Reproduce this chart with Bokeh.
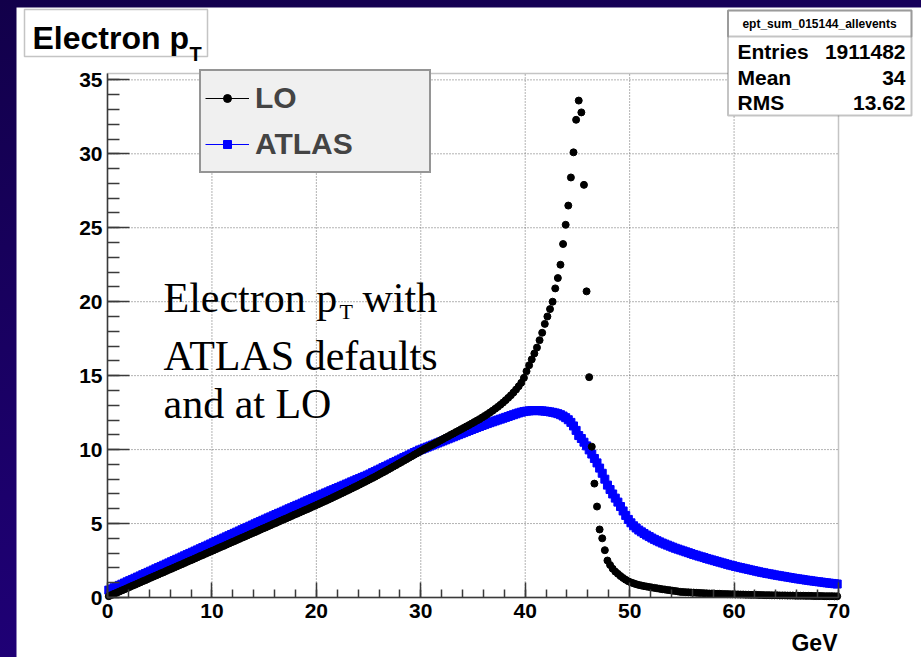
import numpy as np
from bokeh.plotting import figure
from bokeh.models import (Range1d, Label, BoxAnnotation, Legend, LegendItem,
                          SingleIntervalTicker)
from bokeh.layouts import column
from bokeh.embed import file_html
from bokeh.resources import INLINE

# ---------------- data (histogram, 280 bins of 0.25 GeV from 0 to 70) -------------
BIN_WIDTH = 0.25
N_BINS = 280

lo_counts = [
    0.09, 0.17, 0.25, 0.32, 0.40, 0.48, 0.55, 0.63, 0.71, 0.79, 0.86, 0.94, 1.02, 1.10, 1.17, 1.25, 1.33, 1.41, 1.48, 1.56,
    1.64, 1.71, 1.79, 1.87, 1.94, 2.02, 2.10, 2.18, 2.25, 2.33, 2.41, 2.49, 2.56, 2.64, 2.72, 2.80, 2.87, 2.95, 3.03, 3.11,
    3.18, 3.26, 3.34, 3.42, 3.49, 3.57, 3.65, 3.73, 3.80, 3.88, 3.96, 4.04, 4.11, 4.19, 4.27, 4.35, 4.42, 4.50, 4.58, 4.66,
    4.73, 4.81, 4.89, 4.97, 5.04, 5.12, 5.20, 5.28, 5.35, 5.43, 5.51, 5.59, 5.66, 5.74, 5.82, 5.90, 5.97, 6.05, 6.13, 6.21,
    6.29, 6.37, 6.45, 6.53, 6.61, 6.69, 6.78, 6.86, 6.94, 7.03, 7.11, 7.20, 7.28, 7.37, 7.46, 7.54, 7.63, 7.72, 7.81, 7.90,
    7.99, 8.08, 8.17, 8.27, 8.36, 8.46, 8.55, 8.65, 8.75, 8.85, 8.95, 9.05, 9.15, 9.25, 9.35, 9.45, 9.55, 9.65, 9.75, 9.85,
    9.95, 10.05, 10.14, 10.24, 10.33, 10.43, 10.52, 10.62, 10.71, 10.81, 10.90, 11.00, 11.09, 11.19, 11.28, 11.38, 11.47, 11.57, 11.66, 11.76,
    11.86, 11.96, 12.06, 12.17, 12.28, 12.39, 12.51, 12.63, 12.76, 12.89, 13.03, 13.18, 13.34, 13.50, 13.67, 13.86, 14.06, 14.28, 14.52, 14.85,
    15.30, 15.70, 16.10, 16.50, 16.90, 17.40, 17.90, 18.50, 19.00, 19.50, 20.00, 20.90, 21.60, 22.50, 23.90, 25.20, 26.50, 28.40, 30.10, 32.30,
    33.60, 32.80, 27.90, 20.70, 14.90, 10.20, 7.70, 6.15, 4.60, 4.00, 3.20, 2.50, 2.20, 1.95, 1.75, 1.60, 1.45, 1.32, 1.20, 1.10,
    1.02, 0.96, 0.90, 0.85, 0.81, 0.77, 0.74, 0.71, 0.68, 0.65, 0.62, 0.59, 0.56, 0.54, 0.51, 0.49, 0.46, 0.44, 0.41, 0.38,
    0.37, 0.36, 0.35, 0.34, 0.33, 0.32, 0.31, 0.30, 0.29, 0.28, 0.27, 0.27, 0.26, 0.25, 0.25, 0.24, 0.23, 0.23, 0.22, 0.22,
    0.21, 0.21, 0.20, 0.20, 0.19, 0.19, 0.18, 0.18, 0.18, 0.17, 0.17, 0.16, 0.16, 0.16, 0.15, 0.15, 0.15, 0.14, 0.14, 0.14,
    0.13, 0.13, 0.13, 0.12, 0.12, 0.12, 0.12, 0.11, 0.11, 0.11, 0.10, 0.10, 0.10, 0.10, 0.09, 0.09, 0.09, 0.09, 0.08, 0.08,
]

atlas_counts = [
    0.50, 0.58, 0.66, 0.74, 0.82, 0.90, 0.98, 1.06, 1.14, 1.22, 1.30, 1.38, 1.46, 1.54, 1.62, 1.70, 1.78, 1.86, 1.94, 2.02,
    2.10, 2.18, 2.26, 2.34, 2.42, 2.50, 2.58, 2.66, 2.74, 2.82, 2.90, 2.98, 3.06, 3.14, 3.22, 3.30, 3.38, 3.46, 3.54, 3.62,
    3.70, 3.78, 3.86, 3.94, 4.02, 4.10, 4.18, 4.26, 4.34, 4.42, 4.50, 4.58, 4.66, 4.74, 4.82, 4.90, 4.98, 5.06, 5.14, 5.22,
    5.30, 5.38, 5.45, 5.53, 5.61, 5.69, 5.76, 5.84, 5.92, 6.00, 6.07, 6.15, 6.23, 6.30, 6.38, 6.46, 6.54, 6.61, 6.69, 6.77,
    6.84, 6.92, 6.99, 7.07, 7.14, 7.22, 7.29, 7.37, 7.44, 7.52, 7.59, 7.67, 7.74, 7.82, 7.89, 7.97, 8.04, 8.12, 8.19, 8.27,
    8.35, 8.44, 8.52, 8.61, 8.69, 8.78, 8.86, 8.95, 9.03, 9.12, 9.20, 9.29, 9.37, 9.46, 9.54, 9.63, 9.71, 9.80, 9.88, 9.97,
    10.03, 10.10, 10.17, 10.24, 10.31, 10.38, 10.45, 10.52, 10.59, 10.66, 10.73, 10.80, 10.87, 10.94, 11.01, 11.08, 11.15, 11.22, 11.29, 11.36,
    11.43, 11.50, 11.56, 11.63, 11.69, 11.76, 11.82, 11.88, 11.94, 12.00, 12.06, 12.12, 12.18, 12.24, 12.30, 12.36, 12.42, 12.48, 12.53, 12.57,
    12.60, 12.62, 12.63, 12.64, 12.64, 12.63, 12.62, 12.60, 12.58, 12.55, 12.52, 12.48, 12.43, 12.36, 12.27, 12.16, 12.02, 11.84, 11.60, 11.30,
    10.95, 10.75, 10.50, 10.25, 9.98, 9.70, 9.40, 9.10, 8.75, 8.40, 8.00, 7.60, 7.30, 7.00, 6.72, 6.45, 6.15, 5.85, 5.55, 5.28,
    5.05, 4.85, 4.70, 4.56, 4.44, 4.33, 4.22, 4.12, 4.02, 3.93, 3.84, 3.76, 3.68, 3.61, 3.54, 3.47, 3.40, 3.33, 3.27, 3.21,
    3.15, 3.09, 3.03, 2.97, 2.91, 2.86, 2.80, 2.75, 2.70, 2.64, 2.59, 2.54, 2.49, 2.44, 2.39, 2.34, 2.29, 2.24, 2.19, 2.15,
    2.10, 2.06, 2.02, 1.98, 1.94, 1.90, 1.86, 1.82, 1.78, 1.74, 1.70, 1.67, 1.63, 1.60, 1.57, 1.53, 1.50, 1.47, 1.44, 1.41,
    1.38, 1.35, 1.32, 1.29, 1.26, 1.24, 1.21, 1.18, 1.16, 1.13, 1.11, 1.08, 1.06, 1.04, 1.01, 0.99, 0.97, 0.95, 0.93, 0.91,
]

series_labels = ["LO", "ATLAS"]
stats_name = "ept_sum_015144_allevents"
stats_rows = [("Entries", "1911482"), ("Mean", "34"), ("RMS", "13.62")]
x_grid_ticks = [10, 20, 30, 40, 50, 60]
y_grid_ticks = [5, 10, 15, 20, 25, 30, 35]

bin_centres = (np.arange(N_BINS) + 0.5) * BIN_WIDTH

# ---------------- geometry ----------------
X0, X1 = 0.0, 70.0          # axis extent
Y0, Y1 = 0.0, 35.43
FR_L, FR_T, FR_R, FR_B = 107, 73, 838, 597   # axis box in page pixels
OFF_X, OFF_Y = 16, 7                          # white canvas offset in page
FIG_W, FIG_H = 921 - OFF_X, 657 - OFF_Y


def px_x(px):
    return X0 + (px - FR_L) * (X1 - X0) / (FR_R - FR_L)


def px_y(py):
    return Y0 + (FR_B - py) * (Y1 - Y0) / (FR_B - FR_T)


SANS = "Liberation Sans"
SERIF = "Liberation Serif"
AXC = "#3a3a3a"

# the plotting frame covers the whole white canvas; the axes sit at fixed locations
p = figure(width=FIG_W, height=FIG_H, output_backend="svg", toolbar_location=None,
           title=None,
           x_range=Range1d(px_x(OFF_X), px_x(921)), y_range=Range1d(px_y(657), px_y(OFF_Y)),
           min_border=0)
p.margin = (OFF_Y, 0, 0, OFF_X)
p.background_fill_color = "white"
p.border_fill_color = "white"
p.outline_line_color = None
p.grid.visible = False

p.xaxis.ticker = SingleIntervalTicker(interval=10, num_minor_ticks=5)
p.yaxis.ticker = SingleIntervalTicker(interval=5, num_minor_ticks=5)
p.xaxis.fixed_location = 0
p.yaxis.fixed_location = 0
p.xaxis.bounds = (X0, X1)
p.yaxis.bounds = (Y0, Y1)
for ax in (p.xaxis, p.yaxis):
    ax.axis_line_color = AXC
    ax.axis_line_width = 1.5
    ax.major_tick_line_color = AXC
    ax.minor_tick_line_color = AXC
    ax.major_tick_line_width = 1.5
    ax.minor_tick_line_width = 1.5
    ax.major_tick_out = 0
    ax.minor_tick_out = 0
    ax.major_label_text_font = SANS
    ax.major_label_text_font_style = "bold"
    ax.major_label_text_font_size = "21px"
    ax.major_label_text_color = "black"
p.xaxis.major_tick_in = 15
p.xaxis.minor_tick_in = 8
p.xaxis.major_label_standoff = 6
p.yaxis.major_tick_in = 22
p.yaxis.minor_tick_in = 12
p.yaxis.major_label_standoff = 5

# dotted grid at the major ticks
grid_kw = dict(line_color="#666666", line_width=1, line_dash="1 2")
p.segment(x0=x_grid_ticks, y0=[Y0] * len(x_grid_ticks), x1=x_grid_ticks,
          y1=[Y1] * len(x_grid_ticks), **grid_kw)
p.segment(x0=[X0] * len(y_grid_ticks), y0=y_grid_ticks, x1=[X1] * len(y_grid_ticks),
          y1=y_grid_ticks, **grid_kw)

atl = p.scatter(bin_centres, atlas_counts, marker="square", size=8,
                fill_color="#0000ff", line_color="#0000ff")
lo = p.scatter(bin_centres, lo_counts, marker="circle", size=7,
               fill_color="black", line_color="black")
# line-only renderers used just for the legend glyphs
lo_line = p.line([np.nan], [np.nan], line_color="black", line_width=1.2)
atl_line = p.line([np.nan], [np.nan], line_color="#0000ff", line_width=1.2)

# axis frame box
p.add_layout(BoxAnnotation(left=X0, right=X1, bottom=Y0, top=Y1, fill_alpha=0,
                           line_color=AXC, line_width=1.5))

legend = Legend(items=[LegendItem(label=series_labels[0], renderers=[lo_line, lo]),
                       LegendItem(label=series_labels[1], renderers=[atl_line, atl])],
                location=(199 - OFF_X, FIG_H - (FR_T - OFF_Y) - 100), padding=4, spacing=0,
                glyph_width=44, glyph_height=20, label_standoff=6,
                label_width=170, label_height=46, margin=0,
                label_text_font=SANS, label_text_font_style="bold",
                label_text_font_size="30px",
                border_line_color=AXC, border_line_width=2,
                background_fill_color="#f0f0f0", background_fill_alpha=1)
p.add_layout(legend)

# ---------------- title box ----------------
p.add_layout(BoxAnnotation(left=px_x(24), right=px_x(207), top=px_y(9), bottom=px_y(56),
                           fill_color="white", fill_alpha=1, line_color=AXC,
                           line_width=1.5))
p.add_layout(Label(x=px_x(32), y=px_y(37), text="Electron p", text_font=SANS,
                   text_font_style="bold", text_font_size="32px", text_color="black",
                   text_baseline="alphabetic"))
p.add_layout(Label(x=px_x(189), y=px_y(53), text="T", text_font=SANS,
                   text_font_style="bold", text_font_size="20px", text_color="black",
                   text_baseline="alphabetic"))

# ---------------- stats box ----------------
p.add_layout(BoxAnnotation(left=px_x(727.5), right=px_x(911), top=px_y(10), bottom=px_y(115),
                           fill_color="white", fill_alpha=1, line_color=AXC, line_width=2))
p.add_layout(BoxAnnotation(left=px_x(727.5), right=px_x(911), top=px_y(10), bottom=px_y(36),
                           fill_alpha=0, line_color=AXC, line_width=2))
p.add_layout(Label(x=px_x(819), y=px_y(23), text=stats_name, text_font=SANS,
                   text_font_style="bold", text_font_size="12px", text_align="center",
                   text_baseline="middle", text_color="black"))
for (name, val), yy in zip(stats_rows, [51, 77, 102]):
    p.add_layout(Label(x=px_x(737), y=px_y(yy), text=name, text_font=SANS,
                       text_font_style="bold", text_font_size="21px",
                       text_baseline="middle", text_color="black"))
    p.add_layout(Label(x=px_x(905), y=px_y(yy), text=val, text_font=SANS,
                       text_font_style="bold", text_font_size="21px", text_align="right",
                       text_baseline="middle", text_color="black"))

# ---------------- annotation text ----------------
note_kw = dict(text_font=SERIF, text_font_size="42px", text_color="black",
               text_baseline="alphabetic")
p.add_layout(Label(x=px_x(163), y=px_y(297), text="Electron p", **note_kw))
p.add_layout(Label(x=px_x(339), y=px_y(311), text="T", text_font=SERIF,
                   text_font_size="22px", text_color="black", text_baseline="alphabetic"))
p.add_layout(Label(x=px_x(362), y=px_y(297), text="with", **note_kw))
p.add_layout(Label(x=px_x(163), y=px_y(355), text="ATLAS defaults", **note_kw))
p.add_layout(Label(x=px_x(163), y=px_y(403), text="and at LO", **note_kw))

# ---------------- axis title ----------------
p.add_layout(Label(x=px_x(837), y=px_y(642), text="GeV", text_font=SANS,
                   text_font_style="bold", text_font_size="23px", text_align="right",
                   text_baseline="middle", text_color="black"))

root = column(p, width=921, height=657,
              styles={"background": "linear-gradient(165deg, #12004a 0%, #1c006c 55%, #230083 100%)"})

open("out.html", "w").write(file_html(root, INLINE))
